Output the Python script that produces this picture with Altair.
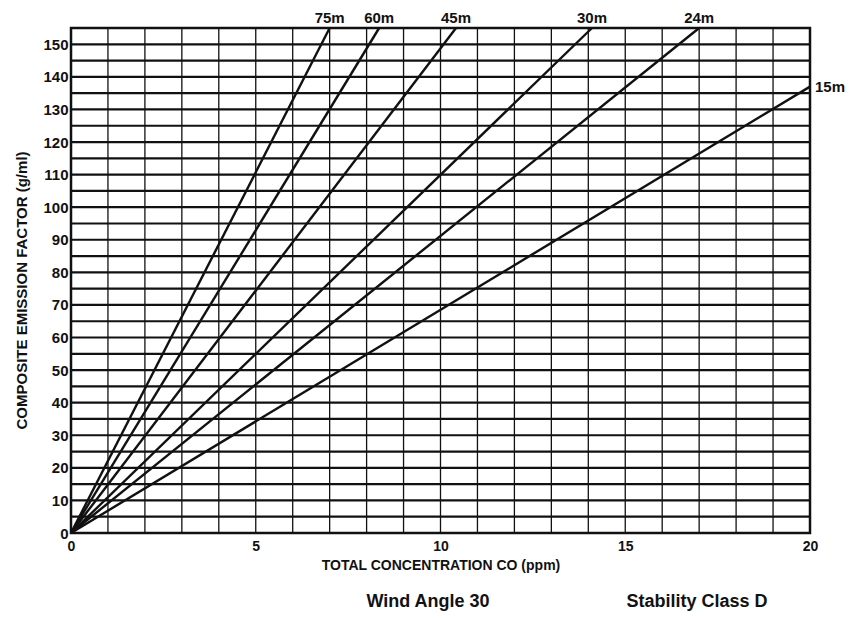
import altair as alt
import pandas as pd

# Data
heights = ["75m", "60m", "45m", "30m", "24m", "15m"]
end_x = [7.0, 8.34, 10.42, 14.1, 17.0, 20.0]
end_y = [155, 155, 155, 155, 155, 137]

x_ticks = list(range(0, 21))
y_ticks = list(range(0, 156, 5))
x_labels = [0, 5, 10, 15, 20]
y_labels = list(range(0, 151, 10))

notes = ["Wind Angle 30", "Stability Class D"]

FONT = "Liberation Sans"
INK = "#111111"

rows = []
for h, ex, ey in zip(heights, end_x, end_y):
    rows.append({"height": h, "order": 0, "x": 0.0, "y": 0.0})
    rows.append({"height": h, "order": 1, "x": ex, "y": ey})
lines_df = pd.DataFrame(rows)
ends_df = pd.DataFrame({"height": heights, "x": end_x, "y": end_y})

xscale = alt.Scale(domain=[0, 20], nice=False, zero=False)
yscale = alt.Scale(domain=[0, 155], nice=False, zero=False)

x_axis = alt.Axis(
    values=x_labels, labelOverlap=False, labelFlush=False,
    grid=False, ticks=False, domain=False, labelPadding=6,
    labelFont=FONT, labelFontSize=14, labelFontWeight="bold", labelColor=INK,
    title="TOTAL CONCENTRATION CO (ppm)",
    titleFont=FONT, titleFontSize=14, titleFontWeight="bold", titleColor=INK,
    titleY=32, titleBaseline="middle",
)
y_axis = alt.Axis(
    values=y_labels, labelOverlap=False, labelFlush=False,
    grid=False, ticks=False, domain=False, labelPadding=3,
    labelFont=FONT, labelFontSize=15, labelFontWeight="bold", labelColor=INK,
    title="COMPOSITE EMISSION FACTOR (g/ml)",
    titleFont=FONT, titleFontSize=15, titleFontWeight="bold", titleColor=INK,
    titleAngle=270, titleX=-50, titleY=262, titleAlign="center", titleBaseline="middle",
)

def X(field):
    return alt.X(field, type="quantitative", scale=xscale, axis=x_axis)

def Y(field):
    return alt.Y(field, type="quantitative", scale=yscale, axis=y_axis)

vgrid = alt.Chart(pd.DataFrame({"x": x_ticks})).mark_rule(color=INK, strokeWidth=1.3).encode(
    x=X("x")
)
hgrid = alt.Chart(pd.DataFrame({"y": y_ticks})).mark_rule(color=INK, strokeWidth=2.2).encode(
    y=Y("y")
)

lines = alt.Chart(lines_df).mark_line(color=INK, strokeWidth=2.4).encode(
    x=X("x"),
    y=Y("y"),
    detail="height:N",
    order="order:O",
)

top_labels = alt.Chart(ends_df).transform_filter("datum.y >= 155").mark_text(
    font=FONT, fontSize=15, fontWeight="bold", color=INK, dy=-10, align="center", baseline="middle"
).encode(x=X("x"), y=Y("y"), text="height:N")

side_labels = alt.Chart(ends_df).transform_filter("datum.y < 155").mark_text(
    font=FONT, fontSize=15, fontWeight="bold", color=INK, dx=5, align="left", baseline="middle"
).encode(x=X("x"), y=Y("y"), text="height:N")

note_df = pd.DataFrame({"note": notes})
note1 = alt.Chart(note_df).transform_filter(alt.datum.note == notes[0]).mark_text(
    font=FONT, fontSize=18, fontWeight="bold", color=INK, align="center", baseline="middle"
).encode(x=alt.value(357), y=alt.value(574), text="note:N")
note2 = alt.Chart(note_df).transform_filter(alt.datum.note == notes[1]).mark_text(
    font=FONT, fontSize=18, fontWeight="bold", color=INK, align="center", baseline="middle"
).encode(x=alt.value(626), y=alt.value(574), text="note:N")

chart = alt.layer(vgrid, hgrid, lines, top_labels, side_labels, note1, note2).properties(
    width=739,
    height=505,
    padding={"left": 71, "top": 28, "right": 40, "bottom": 89},
    autosize=alt.AutoSizeParams(type="none"),
    background="white",
).configure_view(stroke=INK, strokeWidth=2.5)

chart.save("out.html", embed_options={"renderer": "svg", "actions": False})
